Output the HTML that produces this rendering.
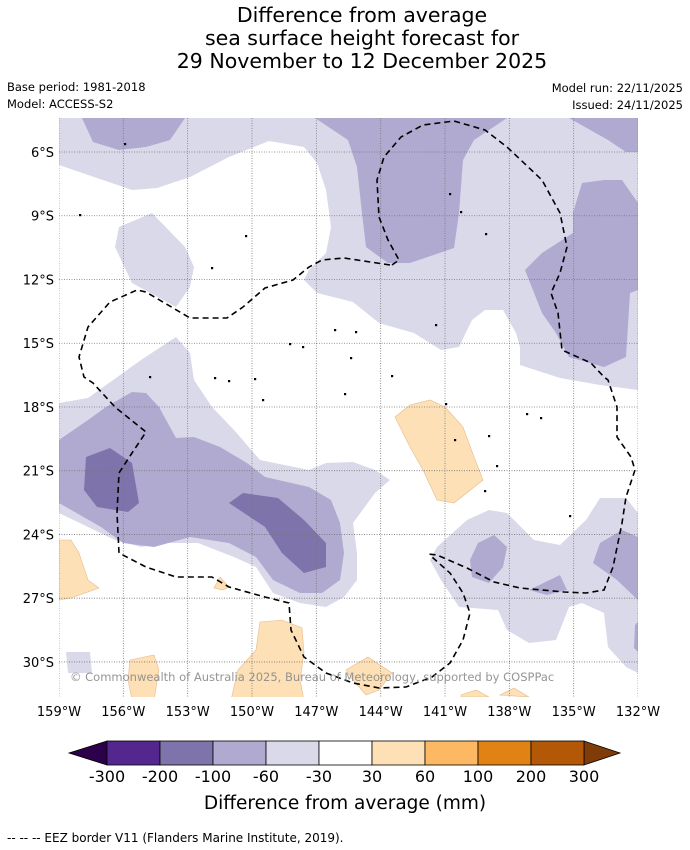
<!DOCTYPE html>
<html><head><meta charset="utf-8">
<style>
body{margin:0;background:#fff;}
svg{display:block;font-family:"DejaVu Sans","Liberation Sans",sans-serif;}
</style></head>
<body>
<svg id="fig" width="690" height="850" viewBox="0 0 690 850" xmlns="http://www.w3.org/2000/svg">
<rect width="690" height="850" fill="#fff"/>
<g font-size="20.5" text-anchor="middle" fill="#000">
<text x="362" y="22">Difference from average</text>
<text x="362" y="45">sea surface height forecast for</text>
<text x="362" y="68">29 November to 12 December 2025</text>
</g>
<g font-size="11.5" fill="#000">
<text x="7" y="91">Base period: 1981-2018</text>
<text x="7" y="108">Model: ACCESS-S2</text>
<text x="683" y="92" text-anchor="end">Model run: 22/11/2025</text>
<text x="683" y="109" text-anchor="end">Issued: 24/11/2025</text>
</g>
<defs><clipPath id="pc"><rect x="59" y="118" width="579" height="579"/></clipPath></defs>
<g id="map" clip-path="url(#pc)"></g>
<g id="axes"></g>
<g id="cbar"></g>
<text x="345" y="809" font-size="18.5" text-anchor="middle">Difference from average (mm)</text>
<text x="7" y="842" font-size="12">--  --  -- EEZ border V11 (Flanders Marine Institute, 2019).</text>
</svg>
<script>
const lonTicks=[-159,-156,-153,-150,-147,-144,-141,-138,-135,-132];
const latTicks=[-6,-9,-12,-15,-18,-21,-24,-27,-30];
const cbLevels=[-300,-200,-100,-60,-30,30,60,100,200,300];
const cbColors=["#54278f","#7f73ab","#b0a9d0","#d9d9ea","#ffffff","#fde0b6","#fdb863","#e08214","#b35806"];
const cbUnder="#2d004b", cbOver="#7f3b08";
const lonMin=-159, lonMax=-132, latTop=-4.4, latBot=-31.65;
const X0=59,X1=638,Y0=118,Y1=697;
const xs=lon=>X0+(lon-lonMin)/(lonMax-lonMin)*(X1-X0);
const ys=lat=>Y0+(latTop-lat)/(latTop-latBot)*(Y1-Y0);
const NS="http://www.w3.org/2000/svg";
function mk(tag,attrs,parent){const e=document.createElementNS(NS,tag);for(const k in attrs)e.setAttribute(k,attrs[k]);parent.appendChild(e);return e;}
const map=document.getElementById('map');
const LIGHT=cbColors[3],MED=cbColors[2],DARK=cbColors[1],OR=cbColors[5];
const shapes=[
[LIGHT,"59,118 638,118 638,390 600,385 560,378 520,365 520,347 516,333 503,310 485,310 472,320 459,347 441,350 414,333 379,323 353,302 317,293 304,280 309,270 326,253 331,227 326,190 317,163 304,147 269,141 229,157 190,177 157,188 132,190 59,165","light-top"],
[LIGHT,"119,227 152,213 185,247 194,267 190,287 176,307 132,283 115,247","light-west-patch"],
[LIGHT,"59,403 88,398 141,360 176,337 190,353 194,380 212,407 234,430 260,460 309,470 326,463 353,462 375,470 390,480 375,493 353,523 357,553 357,580 344,597 326,607 300,603 273,593 256,567 234,557 198,543 168,543 141,547 115,540 88,527 59,513","light-southwest"],
[LIGHT,"437,547 467,520 489,510 507,513 534,540 560,545 586,520 600,498 626,498 638,513 638,673 626,667 608,647 604,613 582,603 569,607 556,640 529,643 507,630 498,610 459,607 441,580 430,560","light-southeast"],
[LIGHT,"66,652 90,652 92,673 68,673","light-small"],
[MED,"82,118 93,142 119,150 146,147 170,140 185,118","medium-top-left"],
[MED,"315,118 348,140 357,167 362,213 366,247 388,263 410,263 454,248 459,213 463,160 474,140 507,118","medium-top-center"],
[MED,"569,118 608,140 626,152 638,152 638,118","medium-top-right"],
[MED,"573,213 582,183 604,180 622,180 638,203 638,290 630,293 626,357 604,367 569,357 556,333 542,313 525,270 542,253 573,233","medium-east"],
[MED,"59,440 88,420 106,407 132,392 146,393 159,407 176,438 194,437 220,447 247,463 265,477 309,487 331,500 340,523 344,553 340,580 322,593 300,593 273,580 256,557 229,543 190,537 154,547 123,543 101,527 66,507 59,503","medium-southwest"],
[MED,"470,560 478,543 494,535 507,547 503,567 489,583 472,577","medium-se-1"],
[MED,"529,590 560,575 567,590 547,595","medium-se-2"],
[MED,"593,563 600,543 622,530 638,537 638,600 617,580","medium-se-3"],
[MED,"635,625 638,622 638,652 634,648","medium-se-edge"],
[DARK,"86,457 110,448 132,463 139,503 128,512 97,507 84,490","dark-west"],
[DARK,"229,503 243,493 278,498 304,520 326,543 326,567 304,573 282,553 265,527","dark-center"],
[OR,"395,417 410,405 430,400 445,407 463,427 474,457 483,480 454,503 437,500 423,470 410,447","orange-east"],
[OR,"59,540 71,540 79,553 88,580 99,588 71,598 59,600","orange-west"],
[OR,"214,588 220,577 229,587 223,590","orange-small"],
[OR,"260,622 282,620 302,628 304,653 300,680 304,700 231,700 238,670 256,650","orange-south"],
[OR,"130,660 154,655 159,670 154,700 132,700 128,680","orange-sw"],
[OR,"346,670 368,657 392,673 379,690 366,695 353,680","orange-s2"],
[OR,"461,695 476,690 489,697 461,697","orange-s3"],
[OR,"500,695 514,688 529,697","orange-s4"]
];
for(const s of shapes){
  const p=mk('polygon',{points:s[1],fill:s[0],stroke:s[0]===OR?"#e8b98a":"none","stroke-width":0.6},map);
  
  
}
for(const lon of lonTicks){
  const l=mk('line',{x1:xs(lon),x2:xs(lon),y1:Y0,y2:Y1,stroke:"#777","stroke-width":0.8,"stroke-dasharray":"1,1.5"},map);
  
  
}
for(const lat of latTicks){
  const l=mk('line',{x1:X0,x2:X1,y1:ys(lat),y2:ys(lat),stroke:"#777","stroke-width":0.8,"stroke-dasharray":"1,1.5"},map);
  
  
}
const eez=[
"392,265 399,260 388,240 379,217 377,180 384,157 401,137 423,125 454,121 485,130 507,147 542,180 560,213 567,247 560,273 551,293 558,313 562,350 591,363 604,377 608,380 617,407 617,437 631,457 635,470 626,497 622,523 613,567 604,590 586,593 564,592 520,588 494,582 467,568 437,555 428,554",
"390,265 344,258 322,260 309,267 293,280 265,288 243,307 227,318 190,318 146,292 137,290 110,302 88,327 79,357 84,377 93,383 115,407 146,432 132,453 119,473 117,513 119,553 146,567 176,577 203,577 212,577 229,587 265,597 289,603 291,630 304,657 326,673 353,683 379,688 406,687 432,677 450,663 463,640 470,613 463,593 450,573 432,557"
];
eez.forEach((pts,i)=>{
  const l=mk('polyline',{points:pts,fill:"none",stroke:"#000","stroke-width":1.6,"stroke-dasharray":"6,4"},map);
  
  
});
const isl="125,144 80,215 246,236 212,268 450,194 461,212 486,234 335,330 356,332 290,344 303,347 351,358 215,378 229,381 263,400 345,394 392,376 436,325 446,404 455,440 489,436 527,414 541,418 497,466 485,491 570,516 150,377 255,379".split(' ');
for(const p of isl){const [x,y]=p.split(',');
  const c=mk('rect',{x:+x-1,y:+y-1,width:2.2,height:2.2,fill:"#000"},map);
  
  
}
const wm=mk('text',{x:70,y:681,"font-size":11.5,fill:"#8a8a8a","fill-opacity":0.9},map);
wm.textContent="© Commonwealth of Australia 2025, Bureau of Meteorology, supported by COSPPac";


const ax=document.getElementById('axes');
for(const lat of latTicks){
  const t=mk('text',{x:54,y:ys(lat)+5,"font-size":13,"text-anchor":"end"},ax);
  t.textContent=Math.abs(lat)+"°S";
  
  
}
for(const lon of lonTicks){
  const t=mk('text',{x:xs(lon),y:716,"font-size":13,"text-anchor":"middle"},ax);
  t.textContent=Math.abs(lon)+"°W";
  
  
}
const cb=document.getElementById('cbar');
const CB0=107,CBW=53.0,CY=741,CH=24;
const cx=i=>CB0+i*CBW;
const n=cbColors.length;
const lt=mk('polygon',{points:`${cx(0)-38},${CY+CH/2} ${cx(0)},${CY} ${cx(0)},${CY+CH}`,fill:cbUnder,stroke:"#000","stroke-width":0.8},cb);


const rt=mk('polygon',{points:`${cx(n)+36},${CY+CH/2} ${cx(n)},${CY} ${cx(n)},${CY+CH}`,fill:cbOver,stroke:"#000","stroke-width":0.8},cb);


cbColors.forEach((c,i)=>{
  const r=mk('rect',{x:cx(i),y:CY,width:CBW,height:CH,fill:c,stroke:"#000","stroke-width":0.8},cb);
  
  
});
cbLevels.forEach((v,i)=>{
  const t=mk('text',{x:cx(i),y:782,"font-size":16,"text-anchor":"middle"},cb);
  t.textContent=v;
  
  
});
</script>
</body></html>
